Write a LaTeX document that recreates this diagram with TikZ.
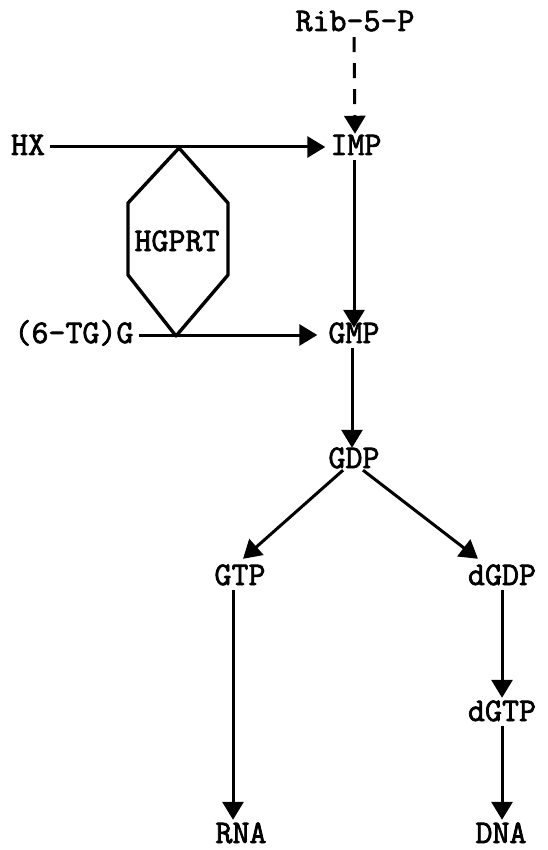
\documentclass[tikz,border=0pt]{standalone}
\usepackage{fontspec}
\setmonofont{Latin Modern Mono}[AutoFakeBold=2.2]
\usetikzlibrary{arrows.meta}
\begin{document}
\begin{tikzpicture}[x=1pt,y=-1pt,
  lbl/.style={font=\ttfamily\bfseries\fontsize{33}{33}\selectfont, inner sep=5pt,
    text height=16pt, text depth=0pt},
  arr/.style={line width=3pt, -{Triangle[length=18pt,width=21pt]}},
  enz/.style={line width=3.4pt, line join=round, line cap=round}]
\useasboundingbox (0,0) rectangle (547,850);
% metabolites
\node[lbl] (rib)  at (355,23)  {Rib-5-P};
\node[lbl] (hx)   at (28,147)  {HX};
\node[lbl] (imp)  at (356,147) {IMP};
\node[lbl] (tg)   at (74,335)  {(6-TG)G};
\node[lbl] (gmp)  at (354,335) {GMP};
\node[lbl] (gdp)  at (354,460) {GDP};
\node[lbl] (gtp)  at (240,577) {GTP};
\node[lbl] (dgdp) at (502,577) {dGDP};
\node[lbl] (dgtp) at (502,713) {dGTP};
\node[lbl] (rna)  at (241,835) {RNA};
\node[lbl] (dna)  at (501,835) {DNA};
% enzyme box
\node[lbl] (hgprt) at (177,243) {HGPRT};
\coordinate (h1) at (179,148);
\coordinate (h2) at (228,203);
\coordinate (h3) at (228,275);
\coordinate (h4) at (176,336);
\coordinate (h5) at (128,275);
\coordinate (h6) at (128,203);
\draw[enz] (h1) -- (h2) -- (h3) -- (h4) -- (h5) -- (h6) -- cycle;
% pathway
\draw[arr, dash pattern=on 15pt off 11pt] ([xshift=-1pt,yshift=-1pt]rib.south) -- (imp.north -| rib.south);
\draw[arr] (hx.east) -- (imp.west);
\draw[arr] (tg.east) -- ([xshift=-6pt]gmp.west);
\draw[arr] ([xshift=-2pt]imp.south) -- ([yshift=-6pt]gmp.north -| 354,0);
\draw[arr] ([xshift=-2pt]gmp.south) -- ([xshift=-2pt,yshift=-1pt]gdp.north);
\draw[arr] ([xshift=-11pt,yshift=3pt]gdp.south) -- ([xshift=3pt,yshift=5pt]gtp.north);
\draw[arr] ([xshift=9pt,yshift=3pt]gdp.south) -- ([xshift=-24pt,yshift=5pt]dgdp.north);
\draw[arr] ([xshift=-7pt]gtp.south) -- ([xshift=-8pt,yshift=2pt]rna.north);
\draw[arr] (dgdp.south) -- ([yshift=2pt]dgtp.north);
\draw[arr] (dgtp.south) -- ([xshift=1pt,yshift=2pt]dna.north);
\end{tikzpicture}
\end{document}
